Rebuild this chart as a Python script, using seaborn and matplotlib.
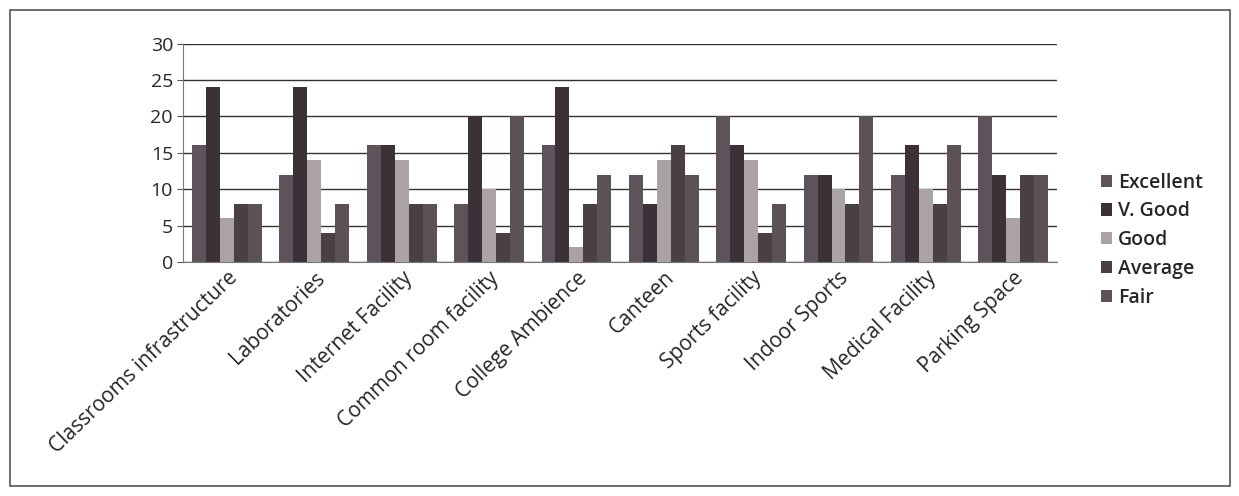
import pandas as pd
import seaborn as sns
import matplotlib.pyplot as plt
from matplotlib.patches import Rectangle

# facilities and ratings
facilities = ["Classrooms infrastructure", "Laboratories", "Internet Facility",
              "Common room facility", "College Ambience", "Canteen",
              "Sports facility", "Indoor Sports", "Medical Facility", "Parking Space"]
ratings = ["Excellent", "V. Good", "Good", "Average", "Fair"]

excellent = [16, 12, 16, 8, 16, 12, 20, 12, 12, 20]
v_good = [24, 24, 16, 20, 24, 8, 16, 12, 16, 12]
good = [6, 14, 14, 10, 2, 14, 14, 10, 10, 6]
average = [8, 4, 8, 4, 8, 16, 4, 8, 8, 12]
fair = [8, 8, 8, 20, 12, 12, 8, 20, 16, 12]

df = pd.DataFrame({"Facility": facilities, "Excellent": excellent, "V. Good": v_good,
                   "Good": good, "Average": average, "Fair": fair})
df = df.melt(id_vars="Facility", var_name="Rating", value_name="Value")

sns.set_style("white")
plt.rcParams['font.family'] = ['Open Sans', 'DejaVu Sans']

colors = ["#5e535a", "#3b3136", "#aaa2a6", "#4a3f45", "#5b5157"]

fig = plt.figure(figsize=(12.39, 4.96), dpi=100)
ax = fig.add_axes([0.148, 0.472, 0.705, 0.44])

sns.barplot(data=df, x="Facility", y="Value", hue="Rating", hue_order=ratings,
            palette=colors, width=0.8, saturation=1, ax=ax, edgecolor="none")

ax.set_ylim(0, 30)
ax.set_yticks(range(0, 31, 5))
ax.yaxis.grid(True, color="#333333", linewidth=1.0)
ax.set_axisbelow(True)
ax.set_xlabel("")
ax.set_ylabel("")
ax.tick_params(axis="y", labelsize=14, length=4, left=True, color="#555555")
ax.tick_params(axis="x", labelsize=15, length=0, pad=4)
plt.setp(ax.get_xticklabels(), rotation=44, ha="right", rotation_mode="anchor")
for side in ["top", "right"]:
    ax.spines[side].set_visible(False)
ax.spines["bottom"].set_color("#777777")
ax.spines["left"].set_color("#777777")

leg = ax.legend(loc="center left", bbox_to_anchor=(1.03, 0.1), frameon=False,
                prop={"size": 14, "weight": "semibold"}, handlelength=0.6,
                handleheight=0.6, handletextpad=0.3, labelspacing=0.45)

fig.patches.append(Rectangle((0.008, 0.02), 0.985, 0.96, transform=fig.transFigure,
                             fill=False, edgecolor="#555555", linewidth=1.2))

fig.savefig("out.png", dpi=100)
